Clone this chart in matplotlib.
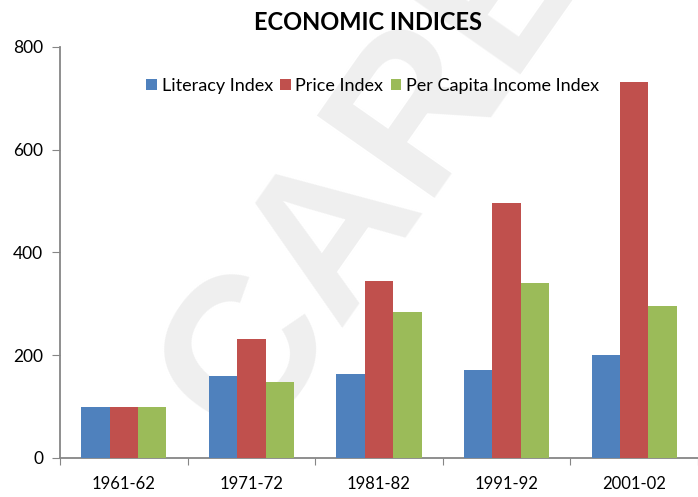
import numpy as np
import matplotlib
matplotlib.use("Agg")
import matplotlib.pyplot as plt

# Data
years = ["1961-62", "1971-72", "1981-82", "1991-92", "2001-02"]
literacy = [100, 160, 163, 172, 200]
price = [100, 232, 344, 496, 731]
income = [100, 147, 284, 341, 295]

series = ["Literacy Index", "Price Index", "Per Capita Income Index"]
colors = ["#4F81BD", "#C0504D", "#9BBB59"]

plt.rcParams['font.family'] = ['Lato', 'DejaVu Sans']

fig = plt.figure(figsize=(6.98, 4.97), dpi=100)
ax = fig.add_axes([0.086, 0.0785, 0.914, 0.827])
ax.set_zorder(2)
ax.set_facecolor('none')

# Watermark (behind the chart)
fig.text(0.41, 0.05, "CAREER", fontsize=150, fontweight='bold', color='#efefef',
         rotation=55, ha='left', va='bottom', family='Liberation Sans',
         rotation_mode='anchor', zorder=0)

x = np.arange(len(years))
w = 1 / 4.5
for i, (vals, lab, c) in enumerate(zip([literacy, price, income], series, colors)):
    ax.bar(x + (i - 1) * w, vals, w, color=c, label=lab, zorder=3)

ax.set_xlim(-0.5, len(years) - 0.5)
ax.set_ylim(0, 800)
ax.set_yticks([0, 200, 400, 600, 800])

ax.set_xticks(np.arange(-0.5, len(years)), minor=False)
ax.set_xticklabels([])
ax.set_xticks(x, minor=True)
ax.set_xticklabels(years, minor=True)
ax.tick_params(axis='x', which='minor', length=0, pad=13, labelsize=12)
ax.tick_params(axis='x', which='major', length=5, color='#868686')
ax.tick_params(axis='y', length=6, color='#868686', labelsize=12.5, pad=6)

for s in ['top', 'right']:
    ax.spines[s].set_visible(False)
for s in ['left', 'bottom']:
    ax.spines[s].set_color('#868686')
    ax.spines[s].set_linewidth(1.3)

ax.legend(loc='center', bbox_to_anchor=(0.49, 0.905), ncol=3, frameon=False,
          fontsize=13, handlelength=0.6, handleheight=0.6, handletextpad=0.25,
          columnspacing=0.4)

fig.text(0.527, 0.955, "ECONOMIC INDICES", ha='center', va='center',
         fontsize=17, fontweight='bold')

fig.savefig("out.png", dpi=100)
